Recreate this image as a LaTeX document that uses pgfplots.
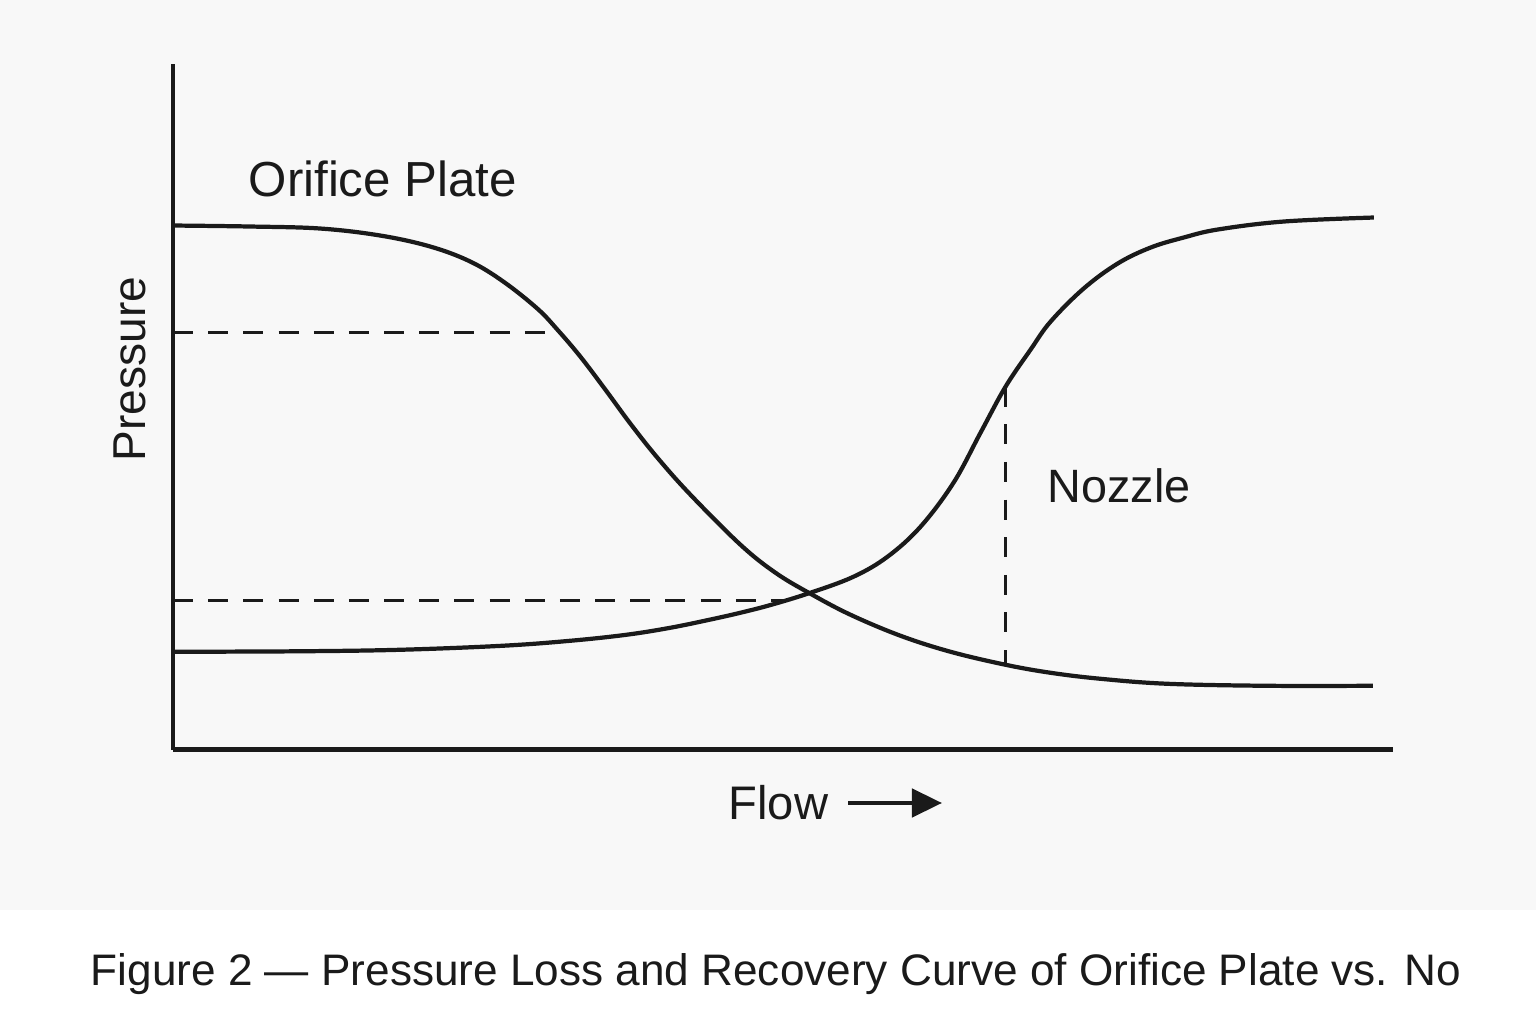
\documentclass[border=0pt]{standalone}
\usepackage{pgfplots}
\pgfplotsset{compat=1.18}
\usepackage{fontspec}
\setmainfont{Liberation Sans}
\usetikzlibrary{arrows.meta}
\definecolor{bgtop}{HTML}{F8F8F8}
\definecolor{ink}{HTML}{1A1A1A}
\begin{document}
\begin{tikzpicture}[x=0.01cm,y=0.01cm]
\fill[white] (0,0) rectangle (1536,1024);
\fill[bgtop] (0,114) rectangle (1536,1024);
\begin{axis}[
  at={(1.73cm,2.74cm)}, anchor=south west,
  width=12.19cm, height=6.85cm, scale only axis,
  xmin=173, xmax=1392, ymin=274, ymax=959,
  axis x line=bottom, axis y line=left,
  axis line style={-, line width=1.35pt, ink},
  xtick=\empty, ytick=\empty,
  clip=false,
]
% Orifice plate curve (y = 1024 - pixel row)
\addplot[ink, line width=1.2pt, smooth, tension=0.6] coordinates {
(173,798)(250,797)(320,795)(380,788)(430,777)(470,762)(503,742)(537,715)(557,694)(580,667)(605,634)(630,600)(657,566)(690,529)(740,479)(775,451)(810,430)(850,409)(900,388)(950,372)(1005,359)(1050,351)(1100,345)(1167,340)(1267,338)(1372,338)};
% Nozzle curve
\addplot[ink, line width=1.2pt, smooth, tension=0.6] coordinates {
(173,372)(300,372.5)(400,374)(502,378)(570,383)(626,389)(670,396)(709,404)(740,411)(771,419)(810,431)(853,447)(887,467)(920,497)(953,541)(980,591)(1005,637)(1030,674)(1050,702)(1083,735)(1117,760)(1150,776)(1183,786)(1217,794)(1283,802)(1373,806)};
% dashed guides
\addplot[ink, line width=0.95pt, dash pattern=on 5.7pt off 4.3pt] coordinates {(173,691)(559,691)};
\addplot[ink, line width=0.95pt, dash pattern=on 5.7pt off 4.3pt] coordinates {(173,423)(785,423)};
\addplot[ink, line width=0.95pt, dash pattern=on 5.7pt off 5pt] coordinates {(1005,637)(1005,359)};
\end{axis}
\node[anchor=base west, inner sep=0, text=ink, font=\fontsize{14}{16}\selectfont] at (248,827) {Orifice Plate};
\node[anchor=base west, inner sep=0, text=ink, font=\fontsize{13.3}{16}\selectfont] at (1047,521) {Nozzle};
\node[anchor=base west, inner sep=0, text=ink, font=\fontsize{13.4}{16}\selectfont] at (728,204) {Flow};
\node[anchor=base west, inner sep=0, rotate=90, text=ink, font=\fontsize{13.1}{16}\selectfont] at (145,562) {Pressure};
\draw[ink, line width=1.3pt, -{Triangle[length=0.3cm,width=0.28cm]}] (848,221) -- (942,221);
\node[anchor=base, inner sep=0, text=ink, font=\fontsize{12.55}{16}\selectfont] at (776,38) {Figure 2 — Pressure Loss and Recovery Curve of Orifice Plate vs. No};
\end{tikzpicture}
\end{document}
